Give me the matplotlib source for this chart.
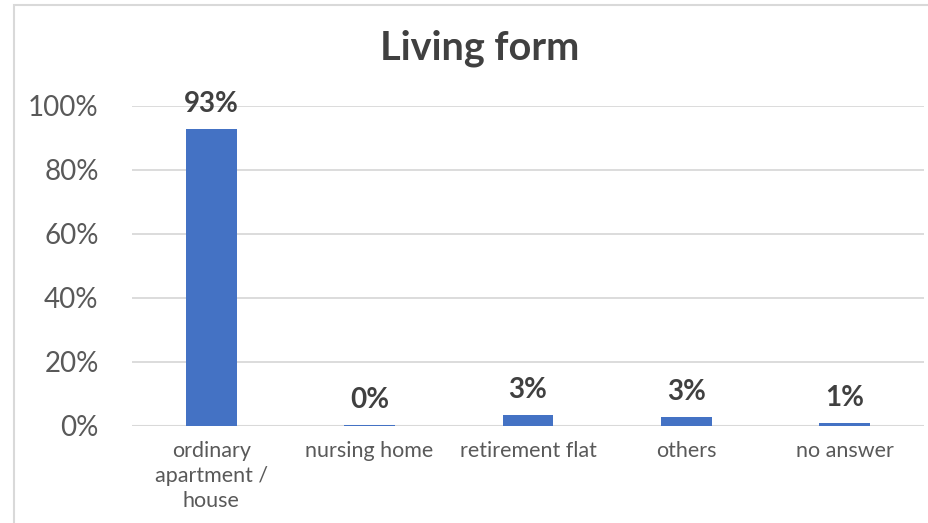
#!/usr/bin/env python3
"""Bar chart: living form of respondents."""
import matplotlib
matplotlib.use("Agg")
import matplotlib.pyplot as plt
from matplotlib.patches import Rectangle

categories = ["ordinary\napartment /\nhouse", "nursing home", "retirement flat", "others", "no answer"]
shares = [92.8, 0.4, 3.3, 2.8, 1.0]
value_labels = ["93%", "0%", "3%", "3%", "1%"]
yticks = [0, 20, 40, 60, 80, 100]

BAR = "#4472C4"
TXT = "#404040"
TICK = "#595959"
GRID = "#d9d9d9"

plt.rcParams["font.family"] = ["Lato", "DejaVu Sans"]

fig = plt.figure(figsize=(9.29, 5.23), dpi=100)
ax = fig.add_axes([132 / 929, 1 - 426 / 523, (924 - 132) / 929, 320 / 523])

x = list(range(len(categories)))
ax.bar(x, shares, width=0.32, color=BAR, zorder=3)
for xi, v, lab in zip(x, shares, value_labels):
    ax.text(xi, v + 5.3, lab, ha="center", va="baseline", fontsize=20,
            fontweight="bold", color=TXT, zorder=4)

ax.set_xlim(-0.5, 4.5)
ax.set_ylim(0, 100)
ax.set_yticks(yticks)
ax.set_yticklabels([f"{t}%" for t in yticks], fontsize=20, color=TICK)
ax.set_xticks(x)
ax.set_xticklabels(categories, fontsize=15.5, color=TICK, linespacing=1.3, va="top")
ax.tick_params(axis="both", length=0)
ax.tick_params(axis="y", pad=24)
ax.tick_params(axis="x", pad=11)
ax.grid(axis="y", color=GRID, linewidth=1.3, zorder=0)
ax.set_axisbelow(True)
for s in ax.spines.values():
    s.set_visible(False)
ax.axhline(0, color=GRID, linewidth=1.5, zorder=2)

fig.text(480 / 929, 1 - 48 / 523, "Living form", ha="center", va="center",
         fontsize=28.5, fontweight="bold", color=TXT)

# chart frame (top and left edges visible in the screenshot)
fig.add_artist(Rectangle((14 / 929, -0.05), 1.2, 1 - 5 / 523 + 0.05,
                         transform=fig.transFigure, fill=False,
                         edgecolor=GRID, linewidth=1.5))

fig.savefig("out.png", dpi=100)
